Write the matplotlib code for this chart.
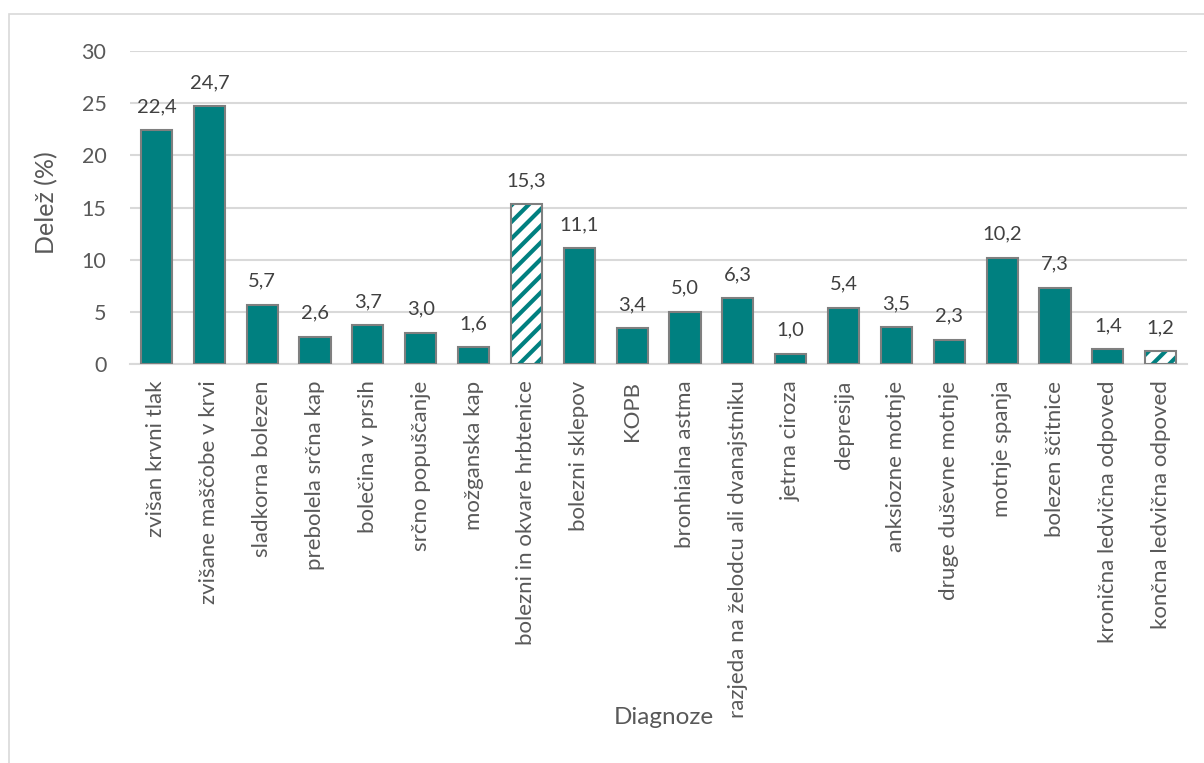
import numpy as np
import matplotlib.pyplot as plt
from matplotlib.patches import Rectangle

# Share of diagnoses (%)
diagnoze = [
    'zvišan krvni tlak', 'zvišane maščobe v krvi', 'sladkorna bolezen',
    'prebolela srčna kap', 'bolečina v prsih', 'srčno popuščanje',
    'možganska kap', 'bolezni in okvare hrbtenice', 'bolezni sklepov', 'KOPB',
    'bronhialna astma', 'razjeda na želodcu ali dvanajstniku', 'jetrna ciroza',
    'depresija', 'anksiozne motnje', 'druge duševne motnje', 'motnje spanja',
    'bolezen ščitnice', 'kronična ledvična odpoved', 'končna ledvična odpoved',
]
delez = [22.4, 24.7, 5.7, 2.6, 3.7, 3.0, 1.6, 15.3, 11.1, 3.4,
         5.0, 6.3, 1.0, 5.4, 3.5, 2.3, 10.2, 7.3, 1.4, 1.2]
# bars drawn with a striped fill
crtkano = ['bolezni in okvare hrbtenice', 'končna ledvična odpoved']

teal = '#008080'
edge = '#7f7f7f'
text_col = '#595959'

plt.rcParams['font.family'] = ['Lato', 'DejaVu Sans']
plt.rcParams['hatch.linewidth'] = 3.0

fig = plt.figure(figsize=(12.04, 7.63), dpi=100)
ax = fig.add_axes([0.108, 0.523, 0.878, 0.410])

x = np.arange(len(diagnoze))
w = 0.59
for i, (name, val) in enumerate(zip(diagnoze, delez)):
    if name in crtkano:
        ax.bar(x[i], val, w, color='white', edgecolor=teal, hatch='//',
               linewidth=0, zorder=3)
        ax.bar(x[i], val, w, fill=False, edgecolor=edge, linewidth=1.5, zorder=4)
    else:
        ax.bar(x[i], val, w, color=teal, edgecolor=edge, linewidth=1.5, zorder=3)
    # value label, about 24 px above the bar top
    ax.annotate(f'{val:.1f}'.replace('.', ','), (x[i], val),
                xytext=(0, 17), textcoords='offset points', ha='center',
                va='center', fontsize=14.5, color='#404040')

ax.set_xlim(-0.5, len(diagnoze) - 0.5)
ax.set_ylim(0, 30)
ax.set_yticks(range(0, 31, 5))
ax.yaxis.grid(True, color='#d9d9d9', linewidth=1.5, zorder=0)
ax.set_axisbelow(True)
for s in ['top', 'right', 'left']:
    ax.spines[s].set_visible(False)
ax.spines['bottom'].set_color('#d9d9d9')
ax.spines['bottom'].set_linewidth(1.5)
ax.tick_params(axis='both', length=0, labelsize=15.5, colors=text_col)
ax.tick_params(axis='y', pad=17)
ax.tick_params(axis='x', pad=12)
ax.set_xticks(x)
ax.set_xticklabels(diagnoze, rotation=90, fontsize=16, color=text_col)

fig.text(0.039, 0.735, 'Delež (%)', rotation=90, ha='center', va='center',
         fontsize=18, color=text_col)
fig.text(0.551, 0.059, 'Diagnoze', ha='center', va='center',
         fontsize=17.5, color=text_col)

# chart frame
fig.patches.append(Rectangle((9 / 1204, -0.1), 1.2, 1 - 14 / 763 + 0.1,
                             transform=fig.transFigure, fill=False,
                             edgecolor='#d9d9d9', linewidth=1.2))

fig.savefig('out.png', dpi=100)
